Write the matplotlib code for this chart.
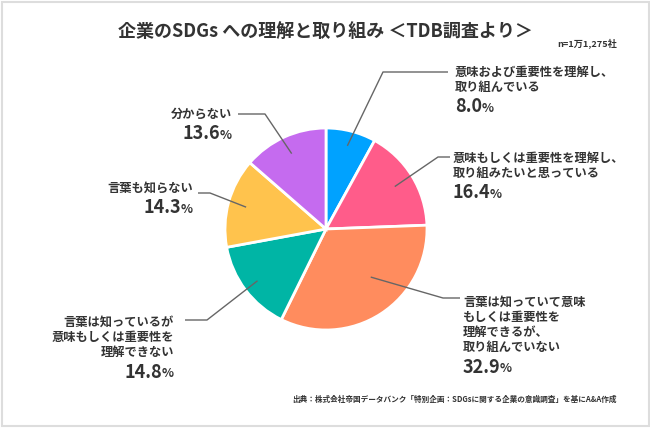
import numpy as np
import matplotlib
matplotlib.use("Agg")
import matplotlib.pyplot as plt
from matplotlib.patches import Rectangle

plt.rcParams['font.family'] = ['Noto Sans CJK JP', 'DejaVu Sans']

# data
labels = [
    ["意味および重要性を理解し、", "取り組んでいる"],
    ["意味もしくは重要性を理解し、", "取り組みたいと思っている"],
    ["言葉は知っていて意味", "もしくは重要性を", "理解できるが、", "取り組んでいない"],
    ["言葉は知っているが", "意味もしくは重要性を", "理解できない"],
    ["言葉も知らない"],
    ["分からない"],
]
values = [8.0, 16.4, 32.9, 14.8, 14.3, 13.6]
colors = ["#00A2FF", "#FF5C8A", "#FF8C5E", "#00B5A5", "#FFC34D", "#C56BEF"]

title = "企業のSDGs への理解と取り組み ＜TDB調査より＞"
n_note = "n=1万1,275社"
source = "出典：株式会社帝国データバンク「特別企画：SDGsに関する企業の意識調査」を基にA&A作成"

# layout (pixels from top-left)
W, H = 650, 428
cx, cy, R = 326, 229, 101
# leader: radius factor of start, elbow point, line end, text x, first text y, align
leaders = [
    (0.85, (383, 72), (448, 72), 455, 72, 'left'),
    (0.80, (438, 157), (450, 157), 453, 158, 'left'),
    (0.65, (443, 298), (460, 298), 463, 302, 'left'),
    (0.85, (207, 320), (185, 320), 174, 322, 'right'),
    (0.82, (210, 193), (198, 193), 193, 188, 'right'),
    (0.82, (265, 114), (238, 114), 232, 114, 'right'),
]
txt_color = "#333333"
line_h = 15.3

fig = plt.figure(figsize=(6.5, 4.28), dpi=100)
ax = fig.add_axes([0, 0, 1, 1])

ax.pie(values, colors=colors, startangle=90, counterclock=False,
       center=(cx, H - cy), radius=R, frame=True,
       wedgeprops=dict(edgecolor='white', linewidth=2))
ax.set_xlim(0, W)
ax.set_ylim(0, H)
ax.axis('off')

fig.add_artist(Rectangle((1.5 / W, 2 / H), (W - 3) / W, (H - 3.5) / H,
                         transform=fig.transFigure, fill=False,
                         edgecolor="#dddddd", linewidth=1.5))

ax.text(cx - 1, H - 32, title, ha='center', va='center', fontsize=13,
        fontweight='bold', color=txt_color)
ax.text(617, H - 43, n_note, ha='right', va='center', fontsize=6.6,
        fontweight='bold', color=txt_color)
ax.text(617, H - 399, source, ha='right', va='center', fontsize=5.5,
        fontweight='bold', color=txt_color)

# mid angles of wedges
cum = np.cumsum([0] + values)
mids = 90 - (cum[:-1] + np.array(values) / 2) * 3.6
mids[2] += 10  # orange leader sits a bit above the middle

fig.canvas.draw()
renderer = fig.canvas.get_renderer()

for i, (rf, elbow, end, tx, ty, al) in enumerate(leaders):
    a = np.deg2rad(mids[i])
    sx = cx + rf * R * np.cos(a)
    sy = cy - rf * R * np.sin(a)
    ax.plot([sx, elbow[0], end[0]], [H - sy, H - elbow[1], H - end[1]],
            color="#666666", lw=1, solid_capstyle='butt')

    y = ty
    for j, line in enumerate(labels[i]):
        if j > 0:
            y += line_h
        ax.text(tx, H - y, line, ha=al, va='center', fontsize=8.8,
                fontweight='bold', color=txt_color)
    y += 19.5
    num = f"{values[i]:.1f}"
    if al == 'left':
        t = ax.text(tx, H - y, num, ha='left', va='center', fontsize=13,
                    fontweight='bold', color=txt_color)
        bb = t.get_window_extent(renderer)
        ax.text(bb.x1 - 0.5, H - y - 1.5, "%", ha='left', va='center',
                fontsize=9, fontweight='bold', color=txt_color)
    else:
        p = ax.text(tx, H - y - 1.5, "%", ha='right', va='center',
                    fontsize=9, fontweight='bold', color=txt_color)
        bb = p.get_window_extent(renderer)
        ax.text(bb.x0 + 0.5, H - y, num, ha='right', va='center', fontsize=13,
                fontweight='bold', color=txt_color)

fig.savefig("out.png", dpi=100, facecolor='white')
